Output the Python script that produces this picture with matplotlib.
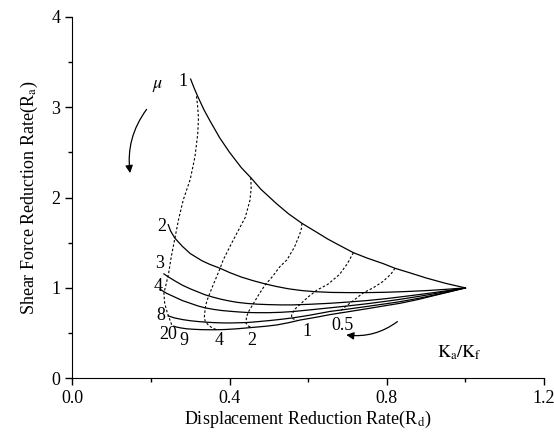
import numpy as np
import matplotlib
matplotlib.use('Agg')
import matplotlib.pyplot as plt
from matplotlib.ticker import MultipleLocator, FormatStrFormatter

plt.rcParams['font.family'] = ['Liberation Serif', 'DejaVu Serif']
plt.rcParams['mathtext.fontset'] = 'stix'

# solid curves: constant mu, K_a/K_f varies
mu_labels = ['1', '2', '3', '4', '8', '20']
mu_x = [
    [0.301, 0.31, 0.32, 0.335, 0.35, 0.375, 0.40, 0.43, 0.454, 0.48, 0.52, 0.55, 0.584,
     0.62, 0.65, 0.68, 0.715, 0.75, 0.79, 0.821, 0.86, 0.90, 0.95, 1.0],
    [0.244, 0.25, 0.261, 0.28, 0.30, 0.33, 0.35, 0.376, 0.40, 0.43, 0.46, 0.49, 0.52,
     0.55, 0.585, 0.618, 0.66, 0.70, 0.75, 0.80, 0.85, 0.90, 0.95, 1.0],
    [0.233, 0.245, 0.26, 0.28, 0.30, 0.32, 0.337, 0.36, 0.38, 0.40, 0.42, 0.445, 0.47,
     0.50, 0.53, 0.56, 0.60, 0.656, 0.70, 0.75, 0.80, 0.834, 0.88, 0.92, 0.96, 1.0],
    [0.223, 0.24, 0.26, 0.28, 0.30, 0.32, 0.337, 0.36, 0.38, 0.40, 0.42, 0.445, 0.47,
     0.50, 0.53, 0.56, 0.60, 0.656, 0.70, 0.75, 0.80, 0.834, 0.88, 0.92, 0.96, 1.0],
    [0.244, 0.26, 0.28, 0.30, 0.32, 0.337, 0.36, 0.38, 0.40, 0.42, 0.445, 0.47, 0.50,
     0.53, 0.56, 0.60, 0.656, 0.70, 0.75, 0.80, 0.834, 0.88, 0.92, 0.96, 1.0],
    [0.262, 0.275, 0.29, 0.31, 0.33, 0.35, 0.367, 0.39, 0.42, 0.456, 0.49, 0.52, 0.55,
     0.58, 0.62, 0.656, 0.70, 0.75, 0.80, 0.834, 0.88, 0.92, 0.96, 1.0],
]
mu_y = [
    [3.31, 3.21, 3.11, 2.97, 2.85, 2.66, 2.50, 2.33, 2.22, 2.09, 1.93, 1.82, 1.715,
     1.62, 1.54, 1.47, 1.39, 1.33, 1.27, 1.217, 1.165, 1.11, 1.05, 1.0],
    [1.70, 1.63, 1.55, 1.46, 1.38, 1.30, 1.26, 1.217, 1.17, 1.12, 1.08, 1.045, 1.015,
     0.99, 0.97, 0.958, 0.95, 0.948, 0.948, 0.952, 0.96, 0.97, 0.984, 1.0],
    [1.155, 1.12, 1.08, 1.03, 0.99, 0.955, 0.925, 0.895, 0.873, 0.855, 0.84, 0.828, 0.82,
     0.815, 0.812, 0.812, 0.818, 0.83, 0.843, 0.86, 0.882, 0.90, 0.925, 0.948, 0.973, 1.0],
    [0.985, 0.94, 0.90, 0.86, 0.83, 0.80, 0.78, 0.762, 0.75, 0.742, 0.735, 0.728, 0.726,
     0.726, 0.73, 0.738, 0.755, 0.78, 0.80, 0.825, 0.853, 0.874, 0.905, 0.935, 0.967, 1.0],
    [0.69, 0.668, 0.65, 0.637, 0.628, 0.622, 0.616, 0.613, 0.612, 0.614, 0.617, 0.626, 0.638,
     0.652, 0.668, 0.695, 0.74, 0.765, 0.795, 0.826, 0.848, 0.884, 0.92, 0.96, 1.0],
    [0.57, 0.558, 0.548, 0.542, 0.538, 0.537, 0.537, 0.54, 0.548, 0.562, 0.575, 0.59, 0.615,
     0.645, 0.675, 0.705, 0.735, 0.77, 0.806, 0.83, 0.872, 0.915, 0.957, 1.0],
]

# dashed curves: constant K_a/K_f, mu varies
k_labels = ['9', '4', '2', '1', '0.5']
k_x = [
    [0.316, 0.319, 0.321, 0.319, 0.312, 0.30, 0.282, 0.27, 0.261, 0.252, 0.245, 0.238,
     0.233, 0.235, 0.242, 0.248, 0.253, 0.262],
    [0.454, 0.455, 0.452, 0.44, 0.418, 0.40, 0.384, 0.376, 0.36, 0.346, 0.34, 0.338,
     0.336, 0.338, 0.346, 0.355, 0.367],
    [0.584, 0.583, 0.579, 0.565, 0.546, 0.528, 0.51, 0.49, 0.475, 0.461, 0.45, 0.443,
     0.442, 0.447, 0.456],
    [0.715, 0.70, 0.68, 0.65, 0.622, 0.60, 0.58, 0.565, 0.558, 0.558, 0.571],
    [0.821, 0.81, 0.79, 0.765, 0.74, 0.715, 0.694, 0.685, 0.681],
]
k_y = [
    [3.12, 3.0, 2.88, 2.70, 2.45, 2.20, 1.97, 1.75, 1.55, 1.35, 1.16, 1.03,
     0.94, 0.83, 0.72, 0.65, 0.59, 0.57],
    [2.22, 2.10, 1.97, 1.78, 1.60, 1.45, 1.31, 1.217, 1.05, 0.90, 0.82, 0.773,
     0.68, 0.63, 0.59, 0.56, 0.537],
    [1.715, 1.66, 1.60, 1.45, 1.31, 1.235, 1.13, 1.03, 0.93, 0.83, 0.75, 0.68,
     0.61, 0.58, 0.562],
    [1.39, 1.27, 1.15, 1.04, 0.975, 0.90, 0.82, 0.76, 0.70, 0.664, 0.645],
    [1.217, 1.15, 1.07, 1.0, 0.945, 0.86, 0.79, 0.755, 0.725],
]

mu_text_xy = [(0.281, 3.28), (0.227, 1.68), (0.221, 1.27), (0.219, 1.02), (0.225, 0.69), (0.244, 0.48)]
k_text_xy = [(0.283, 0.42), (0.373, 0.42), (0.457, 0.42), (0.598, 0.52), (0.688, 0.58)]

fig = plt.figure(figsize=(5.54, 4.32), dpi=100)
ax = fig.add_axes([0.1305, 0.1243, 0.8515, 0.837])

for xs, ys in zip(mu_x, mu_y):
    ax.plot(xs, ys, color='k', lw=0.9)
for xs, ys in zip(k_x, k_y):
    ax.plot(xs, ys, color='k', lw=0.8, linestyle=(0, (2.2, 1.8)))

for lab, (tx, ty) in zip(mu_labels, mu_text_xy):
    ax.text(tx, ty, lab, fontsize=13, ha='center', va='center')
for lab, (tx, ty) in zip(k_labels, k_text_xy):
    ax.text(tx, ty, lab, fontsize=13, ha='center', va='center')

ax.text(0.216, 3.24, r'$\mu$', fontsize=13, ha='center', va='center')
ax.text(0.985, 0.28, r'$\mathrm{K_a/K_f}$', fontsize=13, ha='center', va='center')

ax.annotate('', xy=(0.147, 2.27), xytext=(0.189, 2.975),
            arrowprops=dict(arrowstyle='-|>', color='k', lw=0.9,
                            connectionstyle='arc3,rad=0.2', mutation_scale=11,
                            shrinkA=0, shrinkB=0))
ax.annotate('', xy=(0.697, 0.48), xytext=(0.827, 0.627),
            arrowprops=dict(arrowstyle='-|>', color='k', lw=0.9,
                            connectionstyle='arc3,rad=-0.2', mutation_scale=11,
                            shrinkA=0, shrinkB=0))

ax.set_xlim(0, 1.2)
ax.set_ylim(0, 4)
ax.xaxis.set_major_locator(MultipleLocator(0.4))
ax.xaxis.set_minor_locator(MultipleLocator(0.2))
ax.yaxis.set_major_locator(MultipleLocator(1))
ax.yaxis.set_minor_locator(MultipleLocator(0.5))
ax.xaxis.set_major_formatter(FormatStrFormatter('%.1f'))
ax.spines['top'].set_visible(False)
ax.spines['right'].set_visible(False)
ax.tick_params(which='major', direction='out', length=5, width=1, labelsize=13)
ax.tick_params(which='minor', direction='out', length=3, width=1)
ax.set_xlabel(r'Displacement Reduction Rate(R$_\mathrm{d}$)', fontsize=13, labelpad=1)
ax.set_ylabel(r'Shear Force Reduction Rate(R$_\mathrm{a}$)', fontsize=13, labelpad=8)

fig.savefig('out.png', dpi=100)
